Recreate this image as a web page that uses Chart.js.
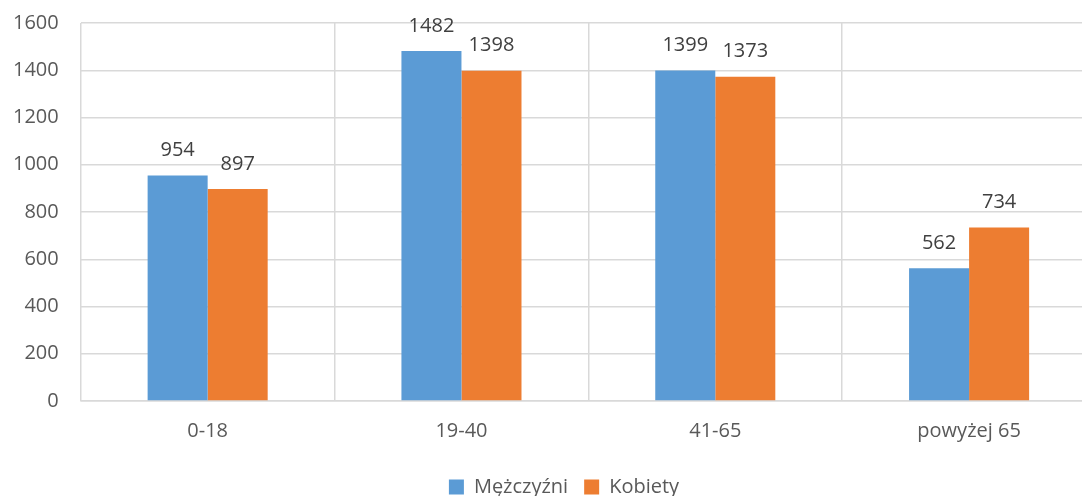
<!DOCTYPE html>
<html>
<head>
<meta charset="utf-8">
<script src="https://cdn.jsdelivr.net/npm/chart.js@4/dist/chart.umd.min.js"></script>
<style>
  html, body { margin: 0; padding: 0; background: #fff; overflow: hidden; }
  #wrap { width: 1137px; height: 496px; }
</style>
</head>
<body>
<div id="wrap"><canvas id="ageChart"></canvas></div>
<script>
const categories = ["0-18", "19-40", "41-65", "powyżej 65"];
const men = [954, 1482, 1399, 562];
const women = [897, 1398, 1373, 734];
const seriesNames = ["Mężczyźni", "Kobiety"];

const labelFont = "Open Sans, sans-serif";
const textColor = "#595959";

// draws value labels above each bar
const barValues = {
  id: "barValues",
  afterDatasetsDraw(chart) {
    const ctx = chart.ctx;
    ctx.save();
    ctx.font = "20px " + labelFont;
    ctx.fillStyle = "#404040";
    ctx.textAlign = "center";
    ctx.textBaseline = "bottom";
    chart.data.datasets.forEach((ds, i) => {
      chart.getDatasetMeta(i).data.forEach((bar, j) => {
        ctx.fillText(ds.data[j], bar.x, bar.y - 15);
      });
    });
    ctx.restore();
  }
};

Chart.defaults.font.family = labelFont;
Chart.defaults.color = textColor;

new Chart(document.getElementById("ageChart"), {
  type: "bar",
  data: {
    labels: categories,
    datasets: [
      { label: seriesNames[0], data: men, backgroundColor: "#5B9BD5" },
      { label: seriesNames[1], data: women, backgroundColor: "#ED7D31" }
    ]
  },
  options: {
    responsive: true,
    maintainAspectRatio: false,
    animation: false,
    categoryPercentage: 0.473,
    barPercentage: 1,
    layout: { padding: { top: 23, left: -9, right: 0, bottom: -11 } },
    plugins: {
      tooltip: { enabled: false },
      legend: {
        position: "bottom",
        labels: {
          boxWidth: 15,
          boxHeight: 15,
          padding: 16,
          font: { size: 20 },
          color: textColor
        }
      }
    },
    scales: {
      x: {
        grid: { color: "#d9d9d9", lineWidth: 1.5, drawTicks: false },
        border: { color: "#d9d9d9", width: 1.5 },
        ticks: { padding: 18, font: { size: 20 }, color: textColor }
      },
      y: {
        min: 0,
        max: 1600,
        grid: { color: "#d9d9d9", lineWidth: 1.5, drawTicks: false },
        border: { display: false },
        ticks: {
          stepSize: 200,
          padding: 22,
          font: { size: 20 },
          color: textColor,
          callback: v => String(v)
        },
        afterFit(scale) {
          scale.paddingTop = 0;
          scale.paddingBottom = 0;
        }
      },
      // empty right-hand spacer so the legend stays centred on the full chart
      spacer: {
        position: "right",
        grid: { display: false },
        border: { display: false },
        ticks: { display: false },
        afterFit(scale) { scale.width = 41; }
      }
    }
  },
  plugins: [barValues]
});
</script>
</body>
</html>
